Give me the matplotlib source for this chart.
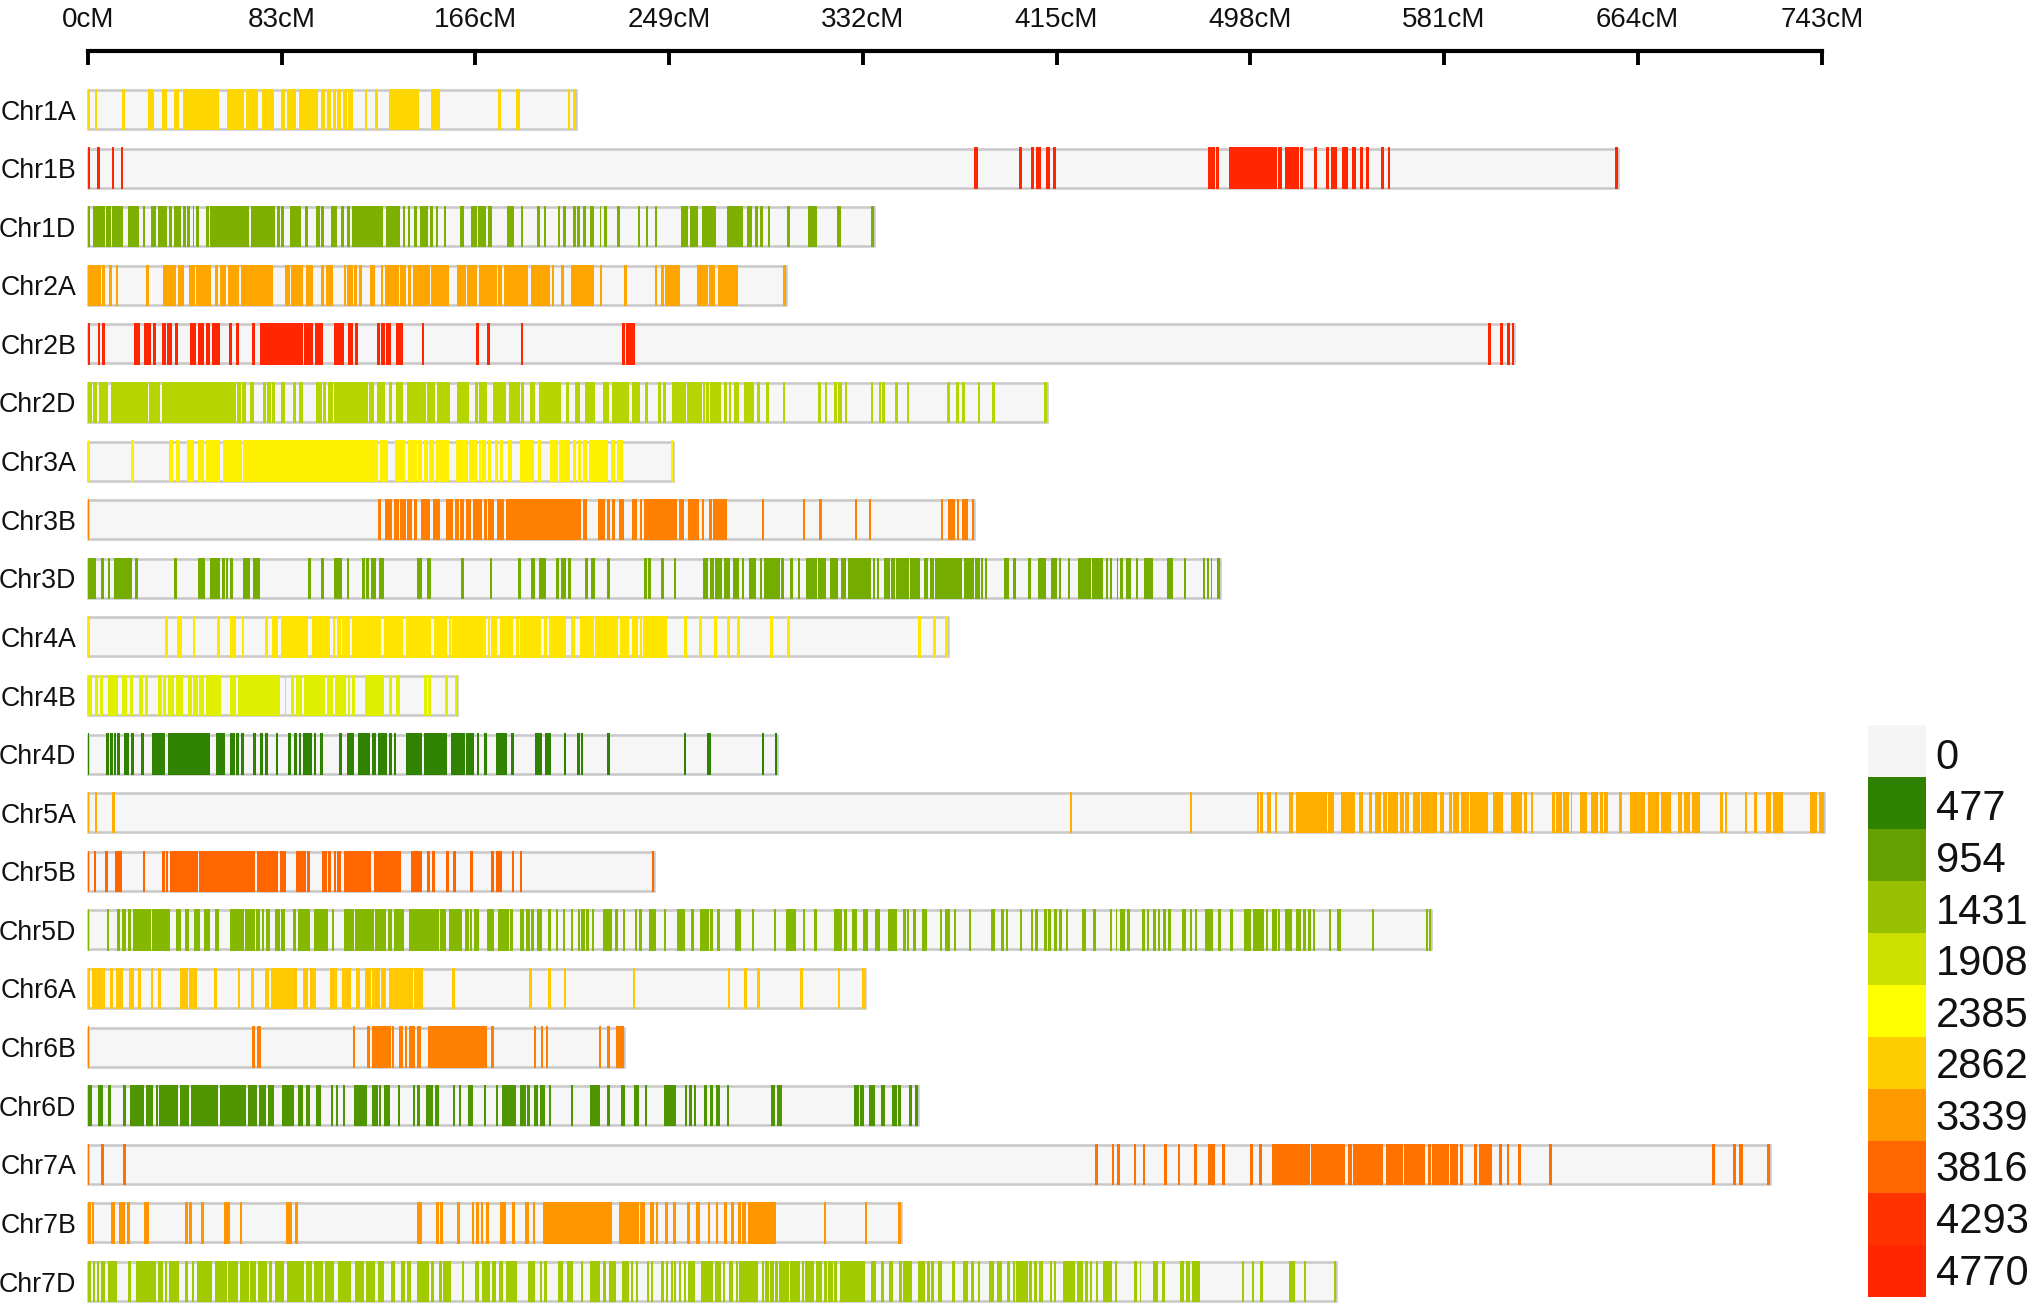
import matplotlib
matplotlib.use("Agg")
import matplotlib.pyplot as plt

plt.rcParams['font.family'] = ['Liberation Sans', 'DejaVu Sans']

names = ["Chr1A","Chr1B","Chr1D","Chr2A","Chr2B","Chr2D","Chr3A","Chr3B","Chr3D","Chr4A","Chr4B",
         "Chr4D","Chr5A","Chr5B","Chr5D","Chr6A","Chr6B","Chr6D","Chr7A","Chr7B","Chr7D"]
lengths = [209.2,655.5,336.7,299,611.1,411,250.8,379.8,484.9,368.5,158.2,295.4,744,242.5,575.6,333.1,229.5,355.7,720.7,348.2,534.8]
colors = ["#FFD700","#FF2600","#7DB000","#FFA500","#FF2600","#B5D400","#FFF000","#FF8000","#74AD00","#FFE500","#E0EE00",
          "#2F8300","#FFAE00","#FF6600","#85B800","#FFC800","#FF8000","#4E9500","#FF7200","#FF9600","#A2CA00"]
ticks = [0,83,166,249,332,415,498,581,664,743]
legend_values = [0,477,954,1431,1908,2385,2862,3339,3816,4293,4770]
legend_colors = ["#F5F5F5","#2E8200","#66A000","#99C000","#CCE000","#FFFF00","#FFCC00","#FF9900","#FF6600","#FF3300","#FF2600"]

chr1a = [(0,1),(3,4),(14.6,15.7),(25.7,28.2),(31.6,33.8),(36.7,38.9),(40.5,55.2),(55.4,56),(59.7,67),(67.5,73),(74.6,79.8),(82.6,84.3),(85.4,89.2),(90.3,93.3),(93.6,98.5),(99.8,101.5),(102.3,104),(104.8,106.4),(106.9,108.5),(109.3,111.1),(111.3,113.6),(118.5,119.7),(123,124.3),(129,142),(147,150.7),(175.6,176.9),(183.6,184.9),(205.7,206.7),(207.7,209.2)]
chr1b = [(0,0.7),(3.8,5),(10.2,11.3),(14,15.2),(379.8,381.4),(399,400.1),(403.9,405.2),(406,408.3),(410.4,412.3),(413.4,414.7),(479.8,482.7),(483.2,484.5),(488.8,509.4),(510,511.7),(512.7,514.5),(514.7,518.8),(519.2,520.8),(525.5,526.7),(530.5,531.7),(532.8,535.1),(537.2,539.7),(541.5,543.4),(544.9,546.2),(547.7,548.8),(554.2,555.4),(557,558.1),(654.4,655.5)]
chr1d = [(0,0.7),(2.1,4.1),(4.4,7.4),(7.7,10),(10.3,15.1),(17.2,22),(23.6,24.6),(27,29.3),(29.8,33.9),(34.9,35.9),(36.9,40),(40.7,41.8),(42.5,43.6),(44.8,45.4),(46.2,47.5),(50.7,52),(52.3,69),(70,80.2),(80.8,82.1),(82.6,83.9),(86.6,91.1),(93,94.1),(97.9,99.2),(99.8,101),(104,106.7),(108.5,109.7),(111,112.1),(113,118.5),(118.7,126.4),(127.7,133.6),(134.8,136),(137,137.9),(139.8,141.1),(142.3,145.7),(146.6,147.9),(148.9,150),(152.5,153.6),(159.5,161),(164,166.6),(167,170.7),(171.6,173.1),(179.5,182.6),(185.4,186.6),(192.6,193.8),(195.2,196.2),(201.3,202.1),(203.6,204.8),(207.9,209.3),(209.7,210.7),(212.3,213.3),(214.9,216.7),(219.2,220),(221.3,222.5),(226.6,227.9),(235.6,236.7),(239,240),(243,243.9),(253.9,257.2),(258,261.3),(263,266.8),(267,269.3),(273.7,280.8),(282.3,284.4),(286,287),(288,289.1),(291.3,292.4),(299.5,300.8),(308.6,312.2),(320.8,322.6),(335.7,336.7)]
chr2a = [(0,5.6),(6,7.2),(9.2,10.3),(11.8,13),(24.8,26),(32,37.5),(38.5,41.1),(43.4,46),(46.4,52.6),(54.4,55.6),(56.6,59.2),(60,64.8),(65.7,79.3),(84.4,86.7),(87,92.3),(93.4,96.4),(99.8,101),(102.1,103.1),(103.4,105),(109.5,110.7),(111.1,113.6),(114.1,115.2),(116,117.4),(120.8,123.1),(125.6,126.6),(127.2,133.1),(133.6,136.4),(137,138.5),(139.3,146.6),(146.9,154.6),(158,161.8),(162.5,166.7),(167.5,175.2),(175.7,177.4),(178.2,188.4),(189.7,197.9),(198.7,199.7),(202.8,203.9),(206.9,216.7),(219.2,220.2),(229.8,230.8),(242.8,243.8),(245.7,246.7),(247.4,252.6),(252.9,253.7),(260.8,265.7),(265.9,268.6),(270.1,273.6),(273.9,278.5),(298,299)]
chr2b = [(0,0.7),(4.3,5.1),(6,7.4),(19.8,22.1),(23.9,27.2),(27.7,29),(31.6,33.3),(33.9,36),(37.2,38.5),(43.8,46.4),(47,49.7),(50.5,52.1),(53,56.7),(60.5,61.6),(63.4,64.6),(70.2,71.5),(73.9,92.1),(92.5,96.2),(97.2,100.8),(105.4,109.7),(111.6,113.4),(114.6,115.9),(123.8,125.1),(125.7,127.4),(127.7,129.7),(132,135.1),(143,143.9),(166.2,167.4),(171,172.1),(185.4,186.4),(228.9,230),(230.7,234.3),(599.8,601),(604.9,606.1),(608,609.2),(610,611.1)]
chr2d = [(0,1.5),(2.3,3.8),(4.6,8.7),(10,25.7),(26.2,30.7),(31.5,35.9),(36.2,63.4),(63.8,65.4),(66,67.9),(69.3,71.3),(74.9,76.4),(76.9,78.5),(79,80.2),(82.8,84.4),(87.7,89.2),(90.2,92.3),(97.5,100.2),(100.8,102.1),(102.8,104.8),(105.4,119.8),(120.2,122.5),(123.8,127.2),(129,130.3),(131.8,135.1),(136.7,145),(145.4,148.5),(149.5,155),(158,163.4),(165.9,167),(167.7,171.1),(173.4,178.9),(180.2,185.1),(185.6,187),(189.2,191.6),(193.3,198.2),(198.5,202.5),(204.8,206.1),(208.5,211),(212.9,217.2),(220.8,223.1),(224.4,232),(232.9,236.4),(238.5,239.8),(244.4,245.7),(246.4,247.7),(250.1,256.2),(256.5,263),(263.7,264.4),(265,266),(266.5,271.1),(272.6,273.7),(274.7,275.5),(276.8,278.8),(281,285.2),(286.7,287.8),(290.6,291.9),(297.8,298.8),(312.7,313.9),(315.7,316.7),(319.5,320.9),(321.4,322.9),(324.2,325.4),(335.4,336.5),(338.8,340),(340.3,341.3),(346,347),(350.8,352),(368.2,369.3),(372.1,373.2),(374.7,375.9),(381.3,382.4),(387.5,388.6),(409.8,411.1)]
chr3a = [(0,0.5),(18.5,19.7),(34.6,36.4),(37.9,39.3),(42.5,45.4),(47,49.8),(50.7,56.4),(57.9,66.2),(66.4,122.8),(123,124.1),(125,128.4),(131.6,135.9),(137,140.8),(141.5,143.3),(144.1,145.7),(146,148.2),(149,154.6),(157.7,162.8),(163.4,166.6),(167.4,168.4),(169,170.7),(171.4,172.5),(174.3,175.6),(176.4,178),(179.8,181.5),(185.1,191.3),(192.8,194),(197.9,201.5),(201.8,206.7),(207.7,209),(210,211.3),(212.3,213.8),(214.6,222.8),(224.1,226),(226.7,229.3),(249.8,250.8)]
chr3b = [(0,0.6),(124.4,125.4),(127.2,130.3),(131.3,133.3),(133.9,136.2),(136.7,138.9),(139.5,140.8),(142.5,146.7),(147.7,151),(153.6,156.4),(157.2,158.9),(159.2,161),(161.8,164.1),(164.8,168.7),(169.7,171),(171.6,173.9),(175.2,178.2),(179.2,211.3),(212.3,213.9),(218.5,221.5),(222.5,223.8),(224.4,225.6),(227.7,229.7),(233.3,235.1),(236.6,237.5),(238.2,241.5),(241.5,252.3),(253.2,255.5),(257.2,261.8),(263.2,264),(266,267.3),(268,273.7),(288.8,289.8),(306.2,307.2),(313.4,314.4),(328.5,329.5),(334.5,335.5),(365.4,366.5),(368.6,371.6),(372.2,373.2),(374.4,377.2),(378.8,379.8)]
chr3d = [(0,3.6),(5.7,6.9),(8.4,9.3),(11.3,18.9),(20.2,21.3),(37,38.2),(47,50.3),(52.3,56.6),(57.4,58.5),(59.2,60.2),(61,62),(66.4,69.3),(70.5,73.6),(94.3,95.4),(100,101.1),(105.6,108.7),(110.8,112),(117.5,118.7),(119.2,120.5),(121.3,123.6),(124.9,126.7),(141.1,143.3),(145.2,146.9),(159.8,161),(172.1,173.3),(184.4,185.4),(189.7,191.6),(193.4,196.2),(200.7,201.8),(202.5,204.8),(205.7,206.9),(213,214.3),(215.6,217.4),(222.5,223.6),(238.4,239.5),(240,241.1),(245.4,246.6),(251,252),(263.4,265.5),(266.5,268.2),(268.6,271.6),(272.4,275.2),(276.4,278.8),(280.3,281.1),(283.1,286.4),(288,288.6),(289.8,296.4),(297,298.3),(301,302),(304.4,305.2),(307.5,312.4),(312.9,316.2),(317.8,321.4),(322.7,324.7),(325.5,335.4),(336.5,337.3),(338,339.1),(341.1,343.6),(344,346),(346.4,351.8),(352.3,356.7),(358.2,359.8),(360.8,362.4),(362.9,374.4),(375.5,379.6),(380.1,382.1),(382.6,383.7),(384.2,385.4),(392.4,394.5),(396.4,397.5),(402.7,403.9),(407.2,410.4),(412.7,415.4),(416,417),(419.8,420.8),(424,429.6),(430.3,434.9),(436.2,437.2),(437.8,438.8),(440.8,441.4),(442.4,443.4),(444.9,447),(449.1,450.1),(452.6,456.4),(462.4,464.9),(469.5,470.5),(477.8,478.8),(479.5,480.4),(481.1,481.8),(483.7,484.9)]
chr4a = [(0,0.5),(33,34.3),(38,40.3),(44.8,45.9),(55.4,56.4),(60.7,63.3),(65.9,67),(76,77.2),(79,81.3),(82.6,94.4),(96,103.9),(104.8,105.9),(106.7,108.5),(109,112.1),(113.3,125.6),(126.9,134.8),(136.2,146.9),(148.2,153.9),(154.8,155.7),(155.9,170.7),(171.3,172.2),(172.8,175.2),(176.6,182.3),(183.4,184.8),(185,194.3),(195.2,196.6),(197.5,204.8),(206.9,208.7),(210.7,217),(217.4,227),(228,232),(233,235.6),(236.6,237.5),(238,248.2),(255.4,256.5),(262,263),(268.3,269.6),(273.6,274.9),(278.3,279.5),(292.4,293.7),(299.5,300.8),(355.7,357),(362,363.2),(367.3,368.5)]
chr4b = [(0,1.5),(2.8,4.4),(5,6.4),(8.4,12.8),(14.6,16.9),(17.9,19.2),(22,23.6),(24.4,25.7),(30.2,31.6),(32.3,33.6),(34.3,36.7),(37.5,40.8),(43,44.4),(45.2,47),(47.7,49.8),(50.7,56.9),(60.8,63.3),(64.4,82.1),(84.4,85),(87,88.4),(89.3,91.6),(92.6,101.5),(102.3,104.8),(106,110.5),(111.3,112.3),(113.3,114.6),(118.7,126.9),(129,130.2),(131.8,133.9),(144.1,145.4),(145.7,147),(153.1,154.3),(157.1,158.2)]
chr4d = [(0,0.6),(7.7,8.9),(9.5,10.8),(11.2,11.9),(12.5,13.8),(15.6,17.4),(18.5,19.8),(22.8,23.9),(27.4,33),(34.4,52.3),(54.9,58.9),(60.8,63),(63.6,64.8),(65.6,66.7),(70.7,72),(73.6,74.8),(75.7,77),(80.5,81.5),(85.9,87),(88.4,89.5),(90.3,91.3),(92,96),(96.9,97.7),(99.3,100.7),(107.7,109),(111,114.1),(115.6,120.8),(121.5,123.6),(124.1,128.2),(129,130.3),(131,132.1),(136.4,140.8),(141.1,143.3),(144.1,153.9),(155.6,161.5),(162.1,165.4),(166.6,167.5),(169.8,171),(174.9,179.7),(181.1,182.5),(191.6,194.4),(195.7,198.2),(203.8,204.9),(209.5,210.8),(211.3,212.3),(222.6,223.6),(255.2,256.2),(265.4,267),(288.6,289.6),(294.4,295.4)]
chr5a = [(0,0.6),(2.8,3.8),(10.3,11.6),(420.6,421.6),(472.1,473.2),(500.8,501.8),(502.4,503.6),(505.4,506.7),(508.6,509.5),(514.6,516.5),(517.8,530.9),(531.4,533.9),(537.1,543.1),(544.4,546.3),(548.7,550.2),(551.3,554.2),(554.7,556.6),(557,561.5),(562.3,563.9),(564.5,566.1),(567.7,570.8),(571.3,578),(579.4,581.1),(583.2,584.5),(585,587.5),(588.4,591.6),(592.2,599.8),(602.2,606.5),(609.7,614.4),(615.4,616.5),(618.1,619.3),(627.1,628.4),(629,631.5),(631.9,634.7),(635.3,636),(639.1,642.2),(643.9,646.9),(647.7,649.3),(649.8,651.4),(656.1,657.2),(660.9,667.2),(668.6,673),(674.2,678.4),(681.3,683),(683.8,686.5),(687.3,690.8),(699.5,700.5),(701.3,702.2),(710,711),(714,715.1),(719,721.2),(722.2,726.1),(738,740.7),(741.8,743.9)]
chr5b = [(0,0.6),(2.5,3.4),(7.4,8.5),(11.5,14.4),(23.4,24.4),(31.6,33),(33.3,34.3),(35.1,47),(47.5,71.6),(72.3,81.5),(82.3,84.8),(89.3,93.3),(93.9,95.1),(100.2,102.3),(103,104.3),(105.2,106.4),(106.7,108.4),(109.7,121.1),(122.5,134.3),(138.5,143.1),(145.4,146.4),(147.5,148.5),(153.6,154.8),(156.6,157.7),(163.8,164.8),(172.6,173.8),(174.9,177.2),(181.5,182.6),(185.1,186.1),(241.5,242.5)]
chr5d = [(0,0.6),(8,9.2),(12.5,13.9),(14.6,16.2),(17.2,18.5),(19.2,26.9),(27.4,35.1),(37.5,39.8),(41.6,43.4),(45.4,48),(49.5,52.3),(54.3,56.2),(60.8,67),(67.2,71.6),(72,73.6),(74.6,75.6),(76.4,77.9),(80.3,82.1),(82.6,84.4),(88,89),(90,95.2),(96.9,102.8),(104.4,105.6),(109.5,113.8),(114.6,122.5),(122.8,127.7),(128.7,130.2),(131.3,135.4),(137.7,146.4),(146.7,150.3),(151,153.4),(154.8,160.2),(161.5,163.1),(163.6,164.6),(165.4,167.5),(171,173.8),(175.6,180.5),(181,182.3),(185.1,187),(187.7,189.2),(190,191.1),(192.3,194.6),(197.2,198.2),(200.7,201.5),(203.4,204.4),(206.9,207.9),(210,210.7),(211.3,213),(213.4,214.6),(215.9,217),(220.8,224.6),(226,227.2),(229.2,230.3),(234.3,235.2),(236.2,237.5),(240.2,243.4),(246.6,247.5),(252.3,255.9),(258.5,259.6),(262.4,266.3),(266.5,268),(269.5,271),(277.2,280),(284.5,285.5),(293.9,294.9),(299,301.1),(301.4,303.4),(306.4,307.3),(310.9,312.3),(319.5,323.1),(324,325.2),(327.3,329.3),(332.1,334.4),(337.3,339.5),(342.7,344.4),(344.7,346.7),(349.1,350.3),(351,352),(353.7,354.7),(357.3,359.3),(364.9,366),(367.3,369.5),(371.1,372.1),(377.3,378.5),(387,388.5),(391.3,392.3),(393.2,394.2),(399.3,400.3),(403.9,404.9),(405.9,407),(409.8,411),(411.3,412.7),(414,415),(416,417.2),(419,420),(425.9,427.5),(430.8,431.8),(437.8,438.8),(440.3,441.1),(442.3,444.4),(445.2,446.4),(451.8,452.8),(453.7,454.7),(456.2,457.5),(458.3,459.3),(460.8,461.8),(462.9,464.2),(468.6,470.3),(472.3,473.2),(474.2,475.2),(478.5,482),(484.2,485.4),(489.5,490.6),(495.2,498.5),(499.3,504.1),(504.6,505.5),(507.3,509.5),(509.7,510.6),(512.7,515.8),(517.7,519.8),(520.6,521.7),(522.8,523.9),(524.7,525.7),(531.7,532.8),(535.2,536.9),(550.1,551.1),(573.2,574.2),(574.5,575.6)]
chr6a = [(0,1),(1.8,7.4),(9.3,10.5),(12.1,14.9),(17.5,19.5),(21.5,22.5),(26.9,27.9),(30,31.3),(39.5,42.8),(43.3,44.9),(45.2,46.7),(53.9,55.1),(64.1,65.1),(70,71.1),(76,77.7),(78.2,89.7),(92.1,94.1),(95.2,97.5),(103.9,106.7),(109,112.6),(114.9,116.7),(118.7,121.1),(121.8,125.2),(125.7,127.7),(129,139.2),(139.8,143.6),(156,157.4),(189,190.2),(197,198.2),(203.9,204.9),(233.4,234.4),(274.2,275.2),(281.1,282.3),(286.8,288),(305,306.4),(321.3,322.4),(331.8,333.1)]
chr6b = [(0,0.6),(70.3,71.5),(72.5,74.3),(113.6,114.6),(119.5,120.7),(121.5,129.8),(130.3,131.3),(133.4,135.1),(135.7,136.7),(137.5,140),(140.8,142.6),(145.7,170.8),(172.8,173.9),(191,192),(193.9,194.9),(196.2,197.2),(219,220),(222.6,223.6),(226.2,229.5)]
chr6d = [(0,1.8),(4.4,6.4),(8.4,10),(15.1,16.1),(18.2,24.1),(24.8,27.7),(29,30.2),(30.3,38.5),(39.5,43.1),(44.1,51),(51.1,55.9),(56.7,67.7),(68.5,72.3),(73.1,76.4),(77.2,79.8),(83.1,85.1),(85.2,88.4),(90,92),(93.6,95.2),(97.7,99.8),(104.1,105.1),(106.2,107.2),(109.2,110.2),(113.9,119.5),(121.8,124.1),(124.8,125.6),(126.9,129.3),(132.9,133.9),(139.2,140.2),(141.1,142.1),(144.8,147.7),(148.7,150.2),(156.2,157.4),(159,160),(163,164.9),(169.7,170.7),(174.8,175.7),(177.4,180.2),(180.5,183.4),(185.1,187.5),(188.3,189.2),(191,193),(193.8,195.7),(197.5,198.5),(206.9,207.9),(214.9,219.5),(222.6,223.6),(228.4,230.3),(234.1,236.1),(238.7,239.7),(246.7,252.1),(255.9,256.8),(257.7,258.8),(259.5,260.6),(264,265.2),(266.7,267.7),(269.3,270.8),(273.6,274.5),(292.7,294.4),(295.2,297.3),(328.3,330.4),(331,332.3),(334.5,337.2),(339.8,341.6),(344.7,346.7),(347.2,348.3),(351.8,352.9),(354.4,355.7)]
chr7a = [(0,0.6),(5.6,6.7),(14.9,16.1),(431.4,432.6),(438.8,439.8),(441.1,442.1),(448.2,449.1),(451.9,452.9),(461.1,462.3),(466.9,467.8),(473.9,475),(479.8,483.1),(486,487),(498,499.2),(501.9,503),(507.3,509.1),(509.2,523.6),(524.2,535.8),(535.8,538.7),(539.8,541.5),(542,547.5),(547.6,555),(556,563.5),(564.1,572.7),(574.2,575.6),(576,583),(583.4,587.2),(588,589),(593.8,595),(596,601.6),(604.7,605.9),(607.9,608.9),(612.8,614),(626.2,627.4),(695.9,697),(704.8,706),(707.4,709.2),(719.6,720.7)]
chr7b = [(0,1.1),(1.5,2.5),(9.8,11.5),(13.1,15.9),(16.9,18),(24.1,26.2),(41.5,42.8),(43.4,44.6),(48.5,49.7),(58.2,61),(65.1,66.2),(84.9,87.2),(88.7,89.8),(140.8,143),(148.9,150.2),(151,152),(157.9,159.5),(164.6,165.6),(166.2,167.4),(168.4,169.3),(170.7,171.8),(176.6,178.9),(181.8,182.8),(187.2,188.9),(190.7,191.6),(194.8,224.4),(227.4,236.2),(236.4,238.7),(240.7,242.5),(243.3,244.4),(247.4,248.4),(250.6,251.8),(256.8,257.8),(260.4,262.3),(265.5,266.7),(269,270),(272.6,273.6),(275.7,276.7),(278.5,279.6),(280.1,282.1),(282.9,294.7),(315.2,316.2),(332.9,333.9),(347.2,348.2)]
chr7d = [(0,1.1),(2,3.1),(3.8,4.8),(5.6,7.4),(8.4,12.6),(17.2,18.5),(20.5,29.3),(30.2,32),(33,34),(34.8,38.9),(41.6,43),(44.4,45.6),(46.9,53.3),(54.3,59.7),(60.2,64.1),(65.1,69),(69.5,72),(72.8,76.9),(77.5,79),(80.2,84.1),(85.1,92.6),(93.3,95.9),(96.9,100.8),(101.4,105.6),(107.2,112.9),(114.6,118.2),(119.2,123.1),(124.1,127),(129.7,131.6),(134.3,135.9),(136.7,138.4),(140.8,146.1),(147,148.2),(150.3,151.5),(152.3,155.4),(160.2,161.1),(165.9,167.4),(168.7,172.3),(173,175),(175.9,177.9),(179.3,183.8),(188.7,191.6),(193.6,194.6),(195.6,196.6),(201.5,203.4),(205.4,207.9),(211.3,212.3),(215.1,219.5),(220.5,222.1),(223.1,226.4),(229,231.8),(232.6,233.6),(234.6,235.6),(239.5,240.3),(241.1,242.1),(245.7,246.7),(247.7,248.7),(249.8,250.6),(251,252),(253.2,254.2),(255.2,256.2),(257,260.1),(262.7,267.7),(268.5,271.1),(272.1,273.1),(274.7,276.2),(277.5,278.5),(279.1,287),(288.6,289.8),(290.3,291.6),(292.4,293.9),(294.5,295.5),(295.9,300.4),(301,305),(305.9,306.7),(307.3,311),(311.9,314.5),(315.4,316.5),(317.2,319.1),(319.8,321.1),(322.4,330.6),(331,332.9),(335.4,337.8),(339.8,341.1),(343.1,345),(347.7,348.8),(349.3,353.2),(355.5,358.8),(359.6,360.8),(361.4,362.6),(364.4,366),(370.3,371.3),(375,377.2),(378.3,379.5),(381.4,382.4),(386.2,388.3),(389.5,391.6),(393.7,394.9),(396.2,397.2),(397.7,402.6),(403.1,404.5),(405.5,406.7),(407.7,409.1),(412.1,413.2),(414,414.9),(417.8,423),(423.9,426.4),(427.2,428.3),(429.3,430.3),(431.8,432.9),(434.9,438.6),(440,441.1),(448.3,449.3),(450.6,451.4),(456.2,458.5),(460.4,461.4),(468.1,469.8),(470.3,472.3),(473.1,476.4),(494.5,495.5),(498.8,499.8),(502.3,503.3),(514.7,515.8),(516.1,517.2),(521,522.1),(533.7,534.8)]

segments = [chr1a,chr1b,chr1d,chr2a,chr2b,chr2d,chr3a,chr3b,chr3d,chr4a,chr4b,chr4d,chr5a,chr5b,chr5d,chr6a,chr6b,chr6d,chr7a,chr7b,chr7d]

W, H = 2034, 1308
fig = plt.figure(figsize=(W/100, H/100), dpi=100, facecolor='white')

left, right, top, bottom = 88, 1822, 51, 1308
ax = fig.add_axes([left/W, 1-bottom/H, (right-left)/W, (bottom-top)/H])
row0, step = 109.5, 58.6
ax.set_xlim(0, 743)
ax.set_ylim((bottom-row0)/step, (top-row0)/step)
ax.patch.set_visible(False)
for s in ('left','right','bottom'):
    ax.spines[s].set_visible(False)
ax.spines['top'].set_linewidth(3)
ax.spines['top'].set_color('black')

ax.set_xticks(ticks)
ax.set_xticklabels([f"{t}cM" for t in ticks], fontsize=20, color='#111111')
ax.tick_params(axis='x', top=True, labeltop=True, bottom=False, labelbottom=False,
               direction='in', length=10, width=2.8, pad=13, color='black')
ax.set_yticks(range(len(names)))
ax.set_yticklabels(names, fontsize=19.3, color='#111111')
ax.tick_params(axis='y', left=False, pad=5)

bg_h, mark_h = 39/step, 41.5/step
for i, (length, col, seg) in enumerate(zip(lengths, colors, segments)):
    ax.barh(i, length, left=0, height=bg_h, color='#F6F6F6', edgecolor='#C8C8C8',
            linewidth=1.8, clip_on=False, zorder=1)
    ax.broken_barh([(a, b-a) for a, b in seg], (i-mark_h/2, mark_h), facecolors=col,
                   edgecolor='none', clip_on=False, zorder=2)

lax = fig.add_axes([1868/W, 1-1297/H, 58/W, 572/H])
lax.set_xlim(0, 1)
lax.set_ylim(len(legend_values), 0)
lax.axis('off')
for i, (v, c) in enumerate(zip(legend_values, legend_colors)):
    lax.barh(i+0.5, 1, height=1.0, left=0, color=c, edgecolor='none')
    lax.text(1.17, i+0.5+0.13-0.008*i, str(v), fontsize=30, va='center', ha='left',
             color='#111111', clip_on=False)

fig.savefig('out.png', dpi=100, facecolor='white')
